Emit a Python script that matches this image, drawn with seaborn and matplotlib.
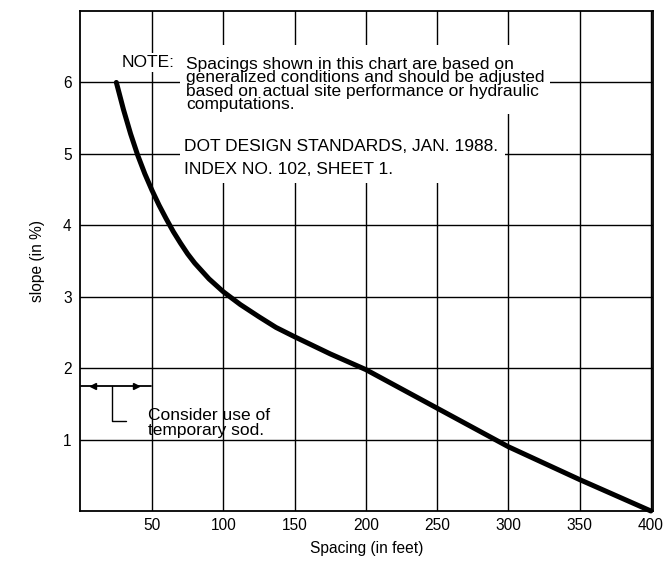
import matplotlib
matplotlib.use("Agg")
import matplotlib.pyplot as plt
import seaborn as sns
import pandas as pd
from matplotlib.patches import Rectangle

# ---- data ----
spacing_ft = [25, 30, 35, 40, 45, 50, 55, 60, 65, 70, 75, 80, 90, 100, 112,
              125, 137, 150, 175, 200, 250, 300, 350, 400]
slope_pct = [6.00, 5.62, 5.28, 4.98, 4.72, 4.49, 4.28, 4.09, 3.91, 3.75, 3.60,
             3.47, 3.25, 3.07, 2.89, 2.72, 2.57, 2.44, 2.20, 1.98, 1.44, 0.90,
             0.44, 0.00]
x_ticks = [50, 100, 150, 200, 250, 300, 350, 400]
y_ticks = [1, 2, 3, 4, 5, 6]
x_label = "Spacing (in feet)"
y_label = "slope (in %)"
note_head = "NOTE:"
note_lines = ["Spacings shown in this chart are based on",
              "generalized conditions and should be adjusted",
              "based on actual site performance or hydraulic",
              "computations."]
source_lines = ["DOT DESIGN STANDARDS, JAN. 1988.",
                "INDEX NO. 102, SHEET 1."]
sod_lines = ["Consider use of", "temporary sod."]
sod_range = [0, 49]
sod_level = 1.75

df = pd.DataFrame({"spacing": spacing_ft, "slope": slope_pct})

sns.set_theme(style="white")
plt.rcParams["font.family"] = ["Liberation Sans", "DejaVu Sans"]

fig = plt.figure(figsize=(6.69, 5.62), dpi=100)
ax = fig.add_axes([80 / 669, 51 / 562, 573 / 669, 500 / 562])

ax.set_xlim(-0.5, 401.5)
ax.set_ylim(0, 7)
ax.set_xticks(x_ticks)
ax.set_yticks(y_ticks)
ax.set_xticklabels([str(v) for v in x_ticks])
ax.set_yticklabels([str(v) for v in y_ticks])
ax.tick_params(axis="both", length=0, labelsize=11.2, colors="black")
ax.tick_params(axis="x", pad=5)
ax.tick_params(axis="y", pad=6)

ax.set_axisbelow(True)
ax.grid(True, color="black", lw=1.0)
for s in ax.spines.values():
    s.set_color("black")
    s.set_linewidth(1.3)

# white masking behind the note text
ax.add_patch(Rectangle((69.7, 5.56), 329 - 69.7, 6.52 - 5.56,
                       facecolor="white", edgecolor="none", zorder=1))
ax.add_patch(Rectangle((69.7, 4.59), 297.5 - 69.7, 5.56 - 4.59,
                       facecolor="white", edgecolor="none", zorder=1))

sns.lineplot(data=df, x="spacing", y="slope", ax=ax, color="black",
             lw=3.6, estimator=None, sort=False, zorder=3, clip_on=False)

fs = 12.5
ax.text(29.0, 6.216, note_head, fontsize=fs, color="black", va="baseline",
        ha="left", zorder=4,
        bbox=dict(facecolor="white", edgecolor="none", pad=1.5))
# multi-line: baseline alignment applies to the last line
ax.text(73.9, 5.628, "\n".join(note_lines), fontsize=fs, color="black",
        va="baseline", ha="left", zorder=4, linespacing=0.86)
for txt, yy in zip(source_lines, [5.044, 4.718]):
    ax.text(72.5, yy, txt, fontsize=fs, color="black", va="baseline",
            ha="left", zorder=4)

# temporary sod bracket
ax.plot(sod_range, [sod_level, sod_level], color="black", lw=1.3, zorder=3)
ax.plot([8.5], [sod_level], marker="<", color="black", ms=4, zorder=3)
ax.plot([39], [sod_level], marker=">", color="black", ms=4, zorder=3)
ax.plot([22, 22, 31.8], [sod_level, 1.26, 1.26], color="black", lw=1.0, zorder=3)
ax.text(47.2, 1.064, "\n".join(sod_lines), fontsize=12.5, color="black",
        va="baseline", ha="left", zorder=4, linespacing=1.0)

ax.set_xlabel(x_label, fontsize=11.2, color="black")
ax.set_ylabel(y_label, fontsize=11.2, color="black")
ax.xaxis.set_label_coords(0.5, -0.06)
ax.yaxis.set_label_coords(-0.061, 0.5)

fig.savefig("out.png", dpi=100, facecolor="white")
